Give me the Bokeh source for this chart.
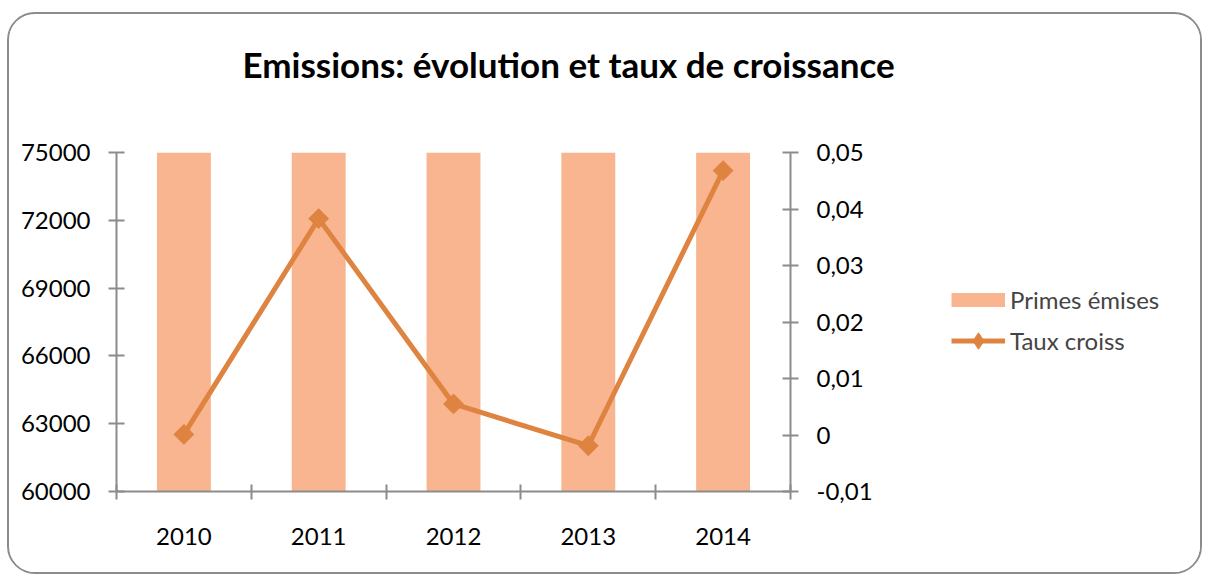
import math
from bokeh.plotting import figure
from bokeh.layouts import row
from bokeh.models import (Range1d, LinearAxis, FixedTicker, CustomJSTickFormatter,
                          Legend, LegendItem, ColumnDataSource, BasicTickFormatter)
from bokeh.embed import file_html
from bokeh.resources import INLINE

years = ["2010", "2011", "2012", "2013", "2014"]
primes_emises = [85000, 88250, 88730, 88560, 92700]
taux_croiss = [0.0001, 0.0383, 0.0055, -0.0019, 0.0468]
left_ticks = [60000, 63000, 66000, 69000, 72000, 75000]
right_ticks = [-0.01, 0.0, 0.01, 0.02, 0.03, 0.04, 0.05]

FONT = "Lato"
AXIS_COL = "#8c8c8c"
BAR_COL = "#F8B590"
LINE_COL = "#DE8340"
H = 558

xpos = [i + 0.5 for i in range(len(years))]
src = ColumnDataSource(dict(x=xpos, primes=primes_emises, taux=taux_croiss, year=years))

# ---- main chart ----
p = figure(width=900, height=H, output_backend="svg", toolbar_location=None,
           x_range=Range1d(0, len(years)), y_range=Range1d(60000, 75000),
           min_border_left=107, min_border_right=119, min_border_top=138, min_border_bottom=81)
p.outline_line_color = None
p.grid.visible = False
p.background_fill_color = "white"
p.border_fill_color = "white"
p.extra_y_ranges = {"rate": Range1d(-0.01, 0.05)}

p.title.text = "Emissions: évolution et taux de croissance\n"
p.title.text_font = FONT
p.title.text_font_style = "bold"
p.title.text_font_size = "35px"
p.title.align = "left"
p.title.offset = 126
p.title.standoff = 52
p.title.text_color = "black"

p.vbar(x="x", top="primes", bottom=60000, width=0.4, source=src,
       fill_color=BAR_COL, line_color=None)
p.line(x="x", y="taux", source=src, y_range_name="rate", line_color=LINE_COL, line_width=5)
p.scatter(x="x", y="taux", source=src, y_range_name="rate", marker="square",
          angle=math.pi / 4, size=14, fill_color=LINE_COL, line_color=LINE_COL)

def style_axis(ax):
    ax.axis_line_color = AXIS_COL
    ax.axis_line_width = 2
    ax.major_tick_line_color = AXIS_COL
    ax.major_tick_line_width = 2
    ax.minor_tick_line_color = AXIS_COL
    ax.minor_tick_line_width = 2
    ax.major_label_text_font = FONT
    ax.major_label_text_font_size = "24px"
    ax.major_label_text_color = "black"

xa = p.xaxis[0]
style_axis(xa)
xa.ticker = FixedTicker(ticks=xpos, minor_ticks=list(range(len(years) + 1)))
xa.major_label_overrides = {x: y for x, y in zip(xpos, years)}
xa.major_tick_in = 0
xa.major_tick_out = 0
xa.minor_tick_in = 7
xa.minor_tick_out = 8
xa.major_label_standoff = 28

ya = p.yaxis[0]
style_axis(ya)
ya.ticker = FixedTicker(ticks=left_ticks)
ya.formatter = BasicTickFormatter(use_scientific=False)
ya.major_tick_in = 8
ya.major_tick_out = 8
ya.minor_tick_line_color = None
ya.major_label_standoff = 18

ra = LinearAxis(y_range_name="rate")
style_axis(ra)
ra.ticker = FixedTicker(ticks=right_ticks)
ra.formatter = CustomJSTickFormatter(code="""
if (Math.abs(tick) < 1e-9) { return '0'; }
return tick.toFixed(2).replace('.', ',');
""")
ra.major_tick_in = 8
ra.major_tick_out = 8
ra.minor_tick_line_color = None
ra.major_label_standoff = 18
p.add_layout(ra, "right")

# ---- legend panel (its series lie outside its ranges, only the keys show) ----
q = figure(width=291, height=H, output_backend="svg", toolbar_location=None,
           x_axis_type=None, y_axis_type=None,
           x_range=Range1d(0, 1), y_range=Range1d(-2, -1),
           min_border_left=0, min_border_right=0, min_border_top=0, min_border_bottom=0)
q.outline_line_color = None
q.grid.visible = False
q.border_fill_color = "white"
k_bar = q.line(x="x", y="primes", source=src, line_color=BAR_COL, line_width=14, line_cap="butt")
k_line = q.line(x="x", y="taux", source=src, line_color=LINE_COL, line_width=5)
k_pts = q.scatter(x="x", y="taux", source=src, marker="diamond",
                  size=14, fill_color=LINE_COL, line_color=LINE_COL)

legend = Legend(items=[LegendItem(label="Primes émises", renderers=[k_bar]),
                       LegendItem(label="Taux croiss", renderers=[k_line, k_pts])],
                location=(42, 130), orientation="vertical",
                label_text_font=FONT, label_text_font_size="24px",
                glyph_width=54, glyph_height=41, label_height=24, spacing=0,
                padding=0, margin=0, label_standoff=5,
                border_line_color=None, background_fill_alpha=0)
q.add_layout(legend, "center")

layout = row(p, q, styles={"border": "2px solid #8c8c8c", "border-radius": "28px",
                           "margin-top": "12px", "margin-left": "7px", "overflow": "hidden"})

open("out.html", "w").write(file_html(layout, INLINE))
